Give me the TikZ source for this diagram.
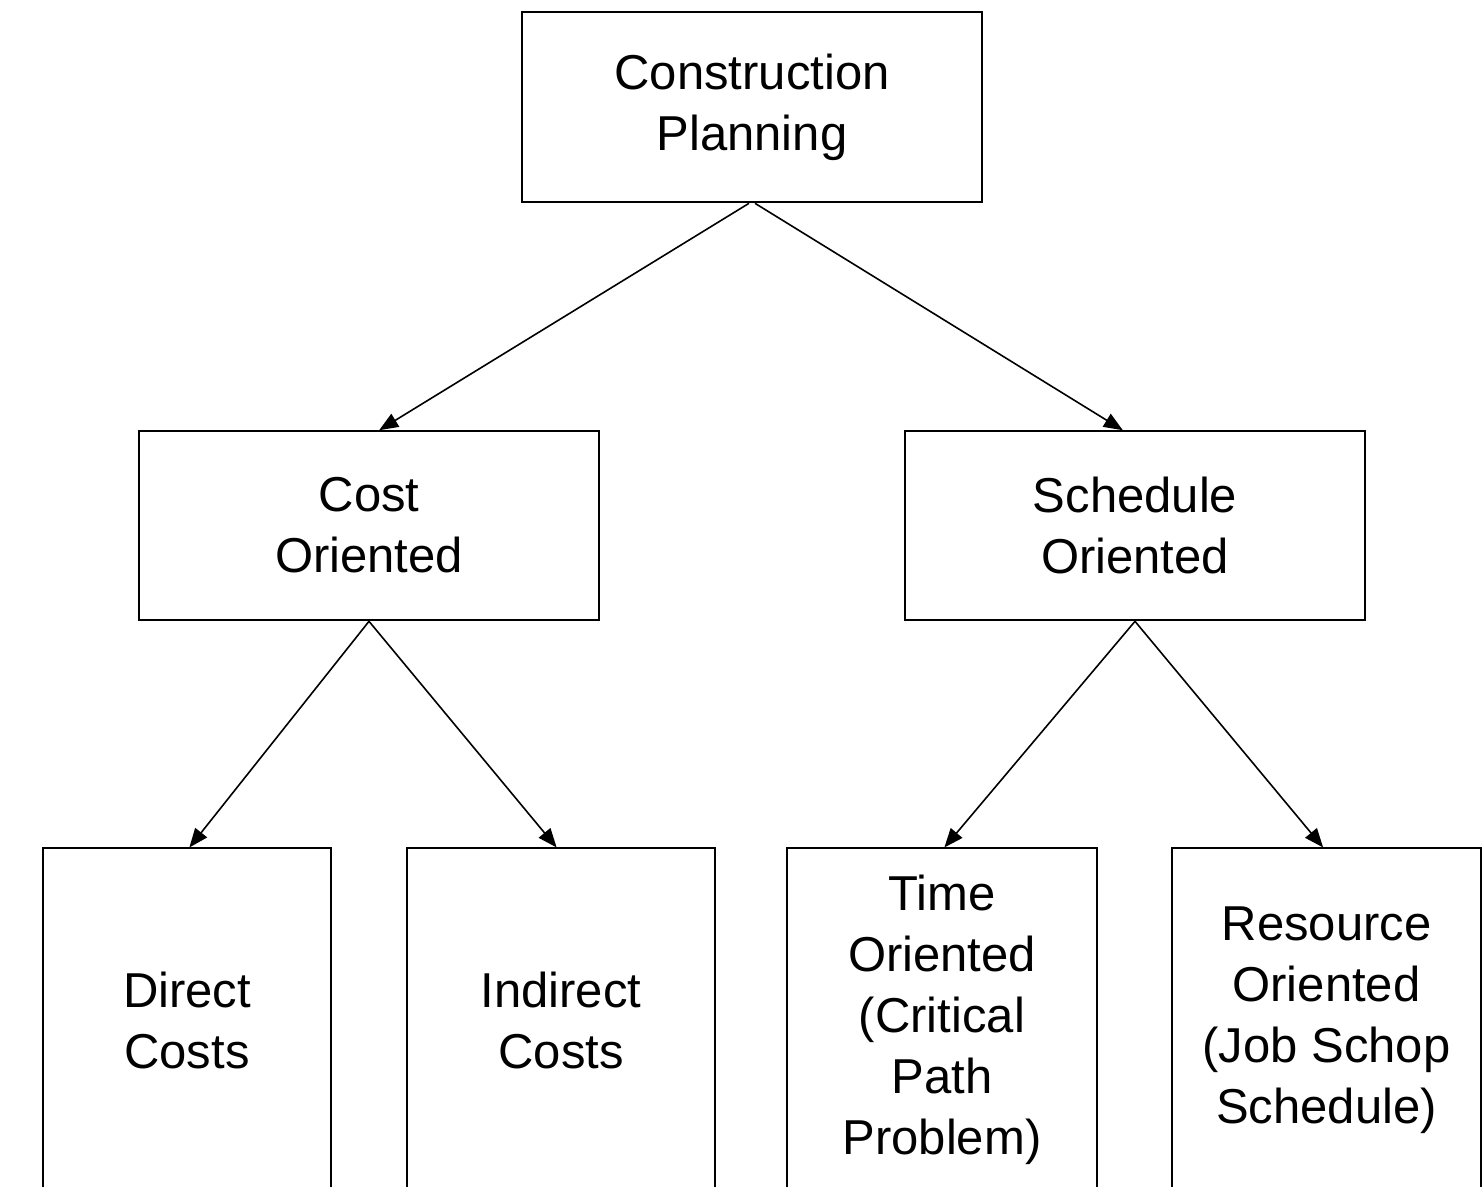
\documentclass[tikz,border=0pt]{standalone}
\usepackage{fontspec}
\setmainfont{Liberation Sans}
\usetikzlibrary{arrows.meta}
\begin{document}
\begin{tikzpicture}[x=1pt,y=-1pt,
  box/.style={draw, line width=2.6pt, rectangle, inner sep=0pt, align=center,
    font=\fontsize{49}{61}\selectfont},
  conn/.style={line width=1.6pt, -{Triangle[length=19pt,width=15pt]}, shorten >=-1pt}]
\useasboundingbox (0,0) rectangle (1483,1186);
\clip (0,0) rectangle (1483,1186);
\fill[white] (0,0) rectangle (1483,1186);
\node[box, minimum width=460pt, minimum height=190pt] (top) at (752,107) {Construction\\Planning};
\node[box, minimum width=460pt, minimum height=189pt] (cost) at (369,525.5) {Cost\\Oriented};
\node[box, minimum width=460pt, minimum height=189pt] (sched) at (1135,525.5) {Schedule\\Oriented};
\node[box, minimum width=288pt, minimum height=344pt] (direct) at (187,1020) {Direct\\Costs};
\node[box, minimum width=308pt, minimum height=344pt] (indirect) at (561,1020) {Indirect\\Costs};
\node[box, minimum width=310pt, minimum height=344pt] (time) at (942,1020) {Time\\Oriented\\(Critical\\Path\\Problem)};
\node[box, minimum width=309pt, minimum height=344pt] (res) at (1326.5,1020) {Resource\\Oriented\\(Job Schop\\Schedule)};
\draw[conn] ([xshift=-3pt]top.south) -- ([xshift=11pt]cost.north);
\draw[conn] ([xshift=3pt]top.south) -- ([xshift=-13pt]sched.north);
\draw[conn] (cost.south) -- ([xshift=3pt]direct.north);
\draw[conn] (cost.south) -- ([xshift=-5pt]indirect.north);
\draw[conn] (sched.south) -- ([xshift=3pt]time.north);
\draw[conn] (sched.south) -- ([xshift=-4pt]res.north);
\end{tikzpicture}
\end{document}
